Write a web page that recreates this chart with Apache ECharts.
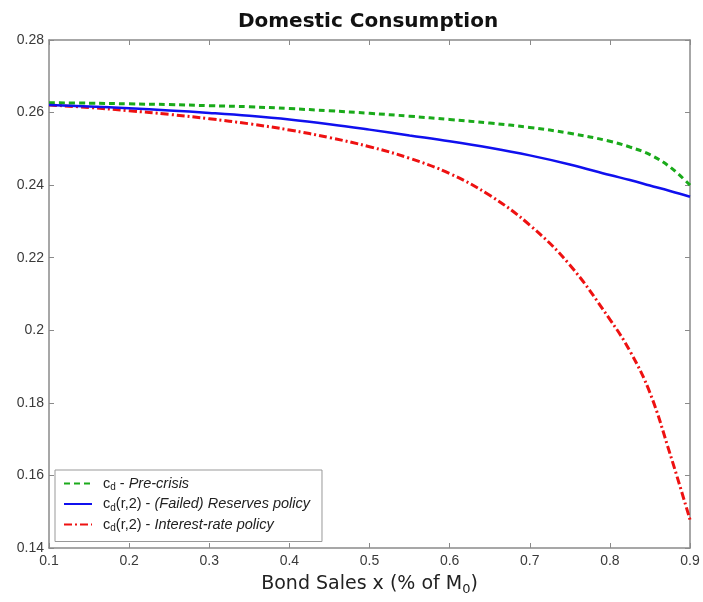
<!DOCTYPE html>
<html><head><meta charset="utf-8">
<script src="https://cdn.jsdelivr.net/npm/echarts@6/dist/echarts.min.js"></script>
<style>html,body{margin:0;padding:0;background:#fff}#c{width:703px;height:602px}</style>
</head><body><div id="c"></div>
<script>
const xValues = [0.10,0.15,0.20,0.25,0.30,0.35,0.40,0.45,0.50,0.55,0.60,0.65,0.70,0.75,0.80,0.825,0.85,0.875,0.90];
const preCrisis = [0.2627,0.2626,0.2624,0.2622,0.2619,0.2616,0.2611,0.2605,0.2598,0.2590,0.2581,0.2571,0.2559,0.2543,0.2521,0.2505,0.2484,0.2450,0.2400];
const reservesPolicy = [0.2621,0.2617,0.2612,0.2606,0.2599,0.2591,0.2581,0.2568,0.2553,0.2537,0.2521,0.2503,0.2482,0.2457,0.2428,0.2414,0.2399,0.2384,0.2368];
const interestPolicy = [0.2621,0.2614,0.2605,0.2595,0.2583,0.2569,0.2552,0.2531,0.2506,0.2474,0.2432,0.2372,0.2290,0.2180,0.2030,0.1943,0.1828,0.1660,0.1478];
const xTicks = [0.1,0.2,0.3,0.4,0.5,0.6,0.7,0.8,0.9];
const yTicks = [0.14,0.16,0.18,0.2,0.22,0.24,0.26,0.28];

const seriesNames = ['pre','res','int'];
const legendLabels = {
  pre: '{g| }{n|c}{s|d}{n| - }{i|Pre-crisis}',
  res: '{g| }{n|c}{s|d}{n|(r,2) - }{i|(Failed) Reserves policy}',
  int: '{g| }{n|c}{s|d}{n|(r,2) - }{i|Interest-rate policy}'
};
const pairs = arr => xValues.map((x,i)=>[x,arr[i]]);

const chart = echarts.init(document.getElementById('c'), null, {renderer:'canvas'});
const axisCol = '#8a8a8a';
const lblFont = {fontFamily:'Liberation Sans, Arial, sans-serif', fontSize:14, color:'#3a3a3a'};
chart.setOption({
  animation:false,
  backgroundColor:'#fff',
  title:{text:'Domestic Consumption', left:363, top:7, textAlign:'center',
    textStyle:{fontFamily:'DejaVu Sans', fontWeight:'bold', fontSize:20, color:'#111'}},
  grid:{left:49, right:13, top:40, bottom:54},
  legend:{
    orient:'vertical', left:55, top:470, padding:[6,12,8,8],
    backgroundColor:'#fff', borderColor:'#999', borderWidth:1,
    itemWidth:28, itemHeight:14, itemGap:4,
    itemStyle:{opacity:0},
    data:seriesNames,
    formatter: n => legendLabels[n],
    textStyle:{
      rich:{
        g:{width:6, fontSize:10},
        n:{fontFamily:'Liberation Sans, Arial', fontSize:14.5, color:'#222'},
        i:{fontFamily:'Liberation Sans, Arial', fontSize:14.5, fontStyle:'italic', color:'#222'},
        s:{fontFamily:'Liberation Sans, Arial', fontSize:10, color:'#222', verticalAlign:'bottom', padding:[8,0,0,0]}
      }
    }
  },
  xAxis:[{
    type:'value', min:0.1, max:0.9, interval:0.1, position:'bottom',
    axisLine:{show:true, lineStyle:{color:axisCol, width:1.5}},
    axisTick:{show:true, inside:true, length:5, lineStyle:{color:axisCol}},
    splitLine:{show:false},
    axisLabel:Object.assign({margin:6, formatter:v=>String(+v.toFixed(2))}, lblFont),
    name:'Bond Sales x (% of M{s|0})', nameLocation:'middle', nameGap:24,
    nameTextStyle:{fontFamily:'DejaVu Sans', fontSize:19, color:'#222',
      rich:{s:{fontFamily:'DejaVu Sans', fontSize:13, color:'#222', verticalAlign:'bottom', padding:[11,0,0,0]}}}
  },{
    type:'value', min:0.1, max:0.9, interval:0.1, position:'top',
    axisLine:{show:true, lineStyle:{color:axisCol, width:1.5}},
    axisTick:{show:true, inside:true, length:5, lineStyle:{color:axisCol}},
    axisLabel:{show:false}, splitLine:{show:false}
  }],
  yAxis:[{
    type:'value', min:0.14, max:0.28, interval:0.02, position:'left',
    axisLine:{show:true, lineStyle:{color:axisCol, width:1.5}},
    axisTick:{show:true, inside:true, length:5, lineStyle:{color:axisCol}},
    splitLine:{show:false},
    axisLabel:Object.assign({margin:5, formatter:v=>String(+v.toFixed(2))}, lblFont)
  },{
    type:'value', min:0.14, max:0.28, interval:0.02, position:'right',
    axisLine:{show:true, lineStyle:{color:axisCol, width:1.5}},
    axisTick:{show:true, inside:true, length:5, lineStyle:{color:axisCol}},
    axisLabel:{show:false}, splitLine:{show:false}
  }],
  series:[
    {name:'pre', type:'line', smooth:0.4, symbol:'none', data:pairs(preCrisis),
      lineStyle:{color:'#1aaa1a', width:3, type:[6,4]}, itemStyle:{color:'#1aaa1a'}, z:3},
    {name:'res', type:'line', smooth:0.4, symbol:'none', data:pairs(reservesPolicy),
      lineStyle:{color:'#1010ee', width:2.5, type:'solid'}, itemStyle:{color:'#1010ee'}, z:4},
    {name:'int', type:'line', smooth:0.4, symbol:'none', data:pairs(interestPolicy),
      lineStyle:{color:'#ee1111', width:3, type:[8,3,2,3]}, itemStyle:{color:'#ee1111'}, z:2}
  ]
});
</script></body></html>
